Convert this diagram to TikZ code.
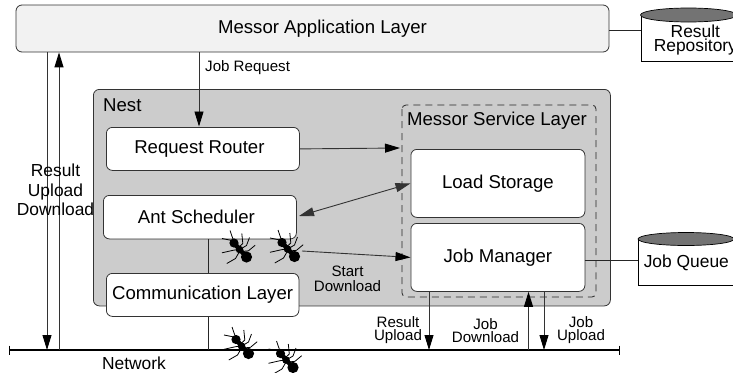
\documentclass[tikz,border=0pt]{standalone}
\usepackage{fontspec}
\setmainfont{Liberation Sans}
\usetikzlibrary{arrows.meta}
\tikzset{
  layerbox/.style={draw=black!80, rounded corners=6pt, fill=white, line width=0.8pt, inner sep=0pt, align=center},
  flow/.style={draw=black!80, line width=0.9pt, -{Triangle[length=15pt,width=9pt,black]}},
  plainline/.style={draw=black!85, line width=0.8pt},
  biglabel/.style={font=\fontsize{18.6}{20}\selectfont},
  midlabel/.style={font=\fontsize{17.4}{14}\selectfont, align=center, inner sep=0pt},
  smalllabel/.style={font=\fontsize{15.1}{13}\selectfont, align=center, inner sep=0pt},
  cylbody/.style={draw=black, line width=0.7pt, fill=white, inner sep=0pt},
  cyltop/.style={draw=black, line width=0.7pt, fill=black!55},
  antleg/.style={line width=0.8pt, line join=round},
  pics/ant/.style={code={
    \draw[line width=4.5pt] (-5.5,-6.5) -- (7,7.5);
    \fill[black] (7,7.5) circle (5.6pt);
    \fill[black] (0,0) circle (3.8pt);
    \fill[black] (-5.5,-6.5) circle (4.6pt);
    \draw[antleg] (-5,-6) -- (-9.5,-19);
    \draw[antleg] (-4,-4.5) -- (-9,-9.3) -- (-17.5,-11);
    \draw[antleg] (0,0) -- (-6,0.7) -- (-17.5,3.3);
    \draw[antleg] (0,2) -- (-4,9) -- (-12.7,14);
    \draw[antleg] (-1,-2) -- (3.3,-6) -- (2.3,-16);
    \draw[antleg] (2,-1) -- (7,-4) -- (10,-12);
    \draw[antleg] (2,2) -- (9,1.3) -- (15.7,-4.3);
  }}
}
\begin{document}
\begin{tikzpicture}[x=1pt,y=-1pt]
\useasboundingbox (0,0) rectangle (733,372);
\clip (0,0) rectangle (733,372);

% outer boxes
\node[layerbox, fill=black!5, minimum width=593pt, minimum height=47pt] (app) at (312.5,28.5) {};
\node[biglabel] (applabel) at (322.5,29) {Messor Application Layer};
\node[layerbox, fill=black!20, minimum width=517pt, minimum height=216.5pt, anchor=north west] (nest) at (93,89) {};
\node[biglabel, anchor=west, inner sep=0pt] (nestlabel) at (103,105) {Nest};
\draw[black!85, line width=0.8pt, dashed, dash pattern=on 7pt off 5pt, rounded corners=4pt] (402,105) rectangle (596,297);
\node[biglabel, inner sep=0pt] (servicelabel) at (497,121) {Messor Service Layer};

% network and its coordinates
\coordinate (netL) at (9.5,350);
\coordinate (netR) at (619.5,350);
\draw[line width=2.6pt] (netL) -- (netR);
\draw[line width=0.9pt] (9.5,345.5) -- (9.5,354.5);
\draw[line width=0.9pt] (619.5,345.5) -- (619.5,354.5);
\coordinate (netA) at (47,350);
\coordinate (netB) at (59,350);
\coordinate (netC) at (208.5,350);
\coordinate (netD) at (429,350);
\coordinate (netE) at (528.5,350);
\coordinate (netF) at (544,350);

% boxes
\node[layerbox, biglabel, minimum width=193pt, minimum height=43pt, anchor=north west] (router) at (106,127) {\hspace*{-7pt}Request Router};
\node[layerbox, biglabel, minimum width=193pt, minimum height=43.5pt, anchor=north west] (sched) at (103,195) {\hspace*{-7pt}Ant Scheduler};
\node[layerbox, biglabel, minimum width=192.5pt, minimum height=43pt, anchor=north west] (comm) at (106,273) {Communication Layer};
\node[layerbox, biglabel, minimum width=174pt, minimum height=68pt, anchor=north west] (load) at (410.5,149) {Load Storage};
\node[layerbox, biglabel, minimum width=174pt, minimum height=68pt, anchor=north west] (job) at (410.5,223) {Job Manager};

% cylinders
\node[cylbody, midlabel, minimum width=109pt, minimum height=46pt, anchor=north west] (repo) at (640.5,15) {\rule{0pt}{16pt}Result\\Repository};
\draw[cyltop] (688.5,15) ellipse (48pt and 7pt);
\node[cylbody, midlabel, minimum width=96pt, minimum height=46pt, anchor=north west] (queue) at (638,239) {\rule{0pt}{12pt}Job Queue};
\draw[cyltop] (686,239) ellipse (48pt and 6.5pt);

% connectors
\draw[flow] (app.south -| netA) -- (netA);
\draw[flow] (netB) -- (app.south -| netB);
\coordinate (jobreq) at (199,126.5);
\draw[flow] (app.south -| jobreq) -- (jobreq);
\coordinate (serviceL) at (400,148);
\draw[flow] (router.east) -- (serviceL);
\coordinate (schedtip) at (299,216);
\draw[flow, {Triangle[length=15pt,width=9pt]}-{Triangle[length=15pt,width=9pt]}] (schedtip) -- (load.west);
\coordinate (antout) at (302,251);
\draw[flow] (antout) -- (job.west);
\draw[plainline] (sched.south -| netC) -- (comm.north -| netC);
\draw[plainline] (comm.south -| netC) -- (netC);
\draw[flow] (job.south -| netD) -- (netD);
\draw[flow] (netE) -- (job.south -| netE);
\draw[flow] (job.south -| netF) -- (netF);
\coordinate (appout) at (609,30);
\draw[plainline] (appout) -- (appout -| repo.west);
\coordinate (jobout) at (584.5,260);
\draw[plainline] (jobout) -- (jobout -| queue.west);

% ants
\foreach \px/\py/\nm in {239.5/249.5/antA,287.5/249/antB,241.5/346/antC,286/360/antD}
  \pic (\nm) at (\px,\py) {ant};

% labels
\node[smalllabel, anchor=west] (reqlabel) at (205,68) {Job Request};
\node[font=\fontsize{17.4}{19.5}\selectfont, align=center, inner sep=0pt] (leftlabel) at (55.5,190) {Result\\Upload\\Download};
\node[font=\fontsize{15.1}{15.5}\selectfont, align=center, inner sep=0pt] (startlabel) at (347.5,279) {Start\\Download};
\node[smalllabel] (resultlabel) at (398,330.5) {Result\\Upload};
\node[smalllabel] (jdlabel) at (485.5,330.5) {Job\\Download};
\node[smalllabel] (julabel) at (581,330.5) {Job\\Upload};
\node[midlabel] (netlabel) at (134,363) {Network};
\end{tikzpicture}
\end{document}
